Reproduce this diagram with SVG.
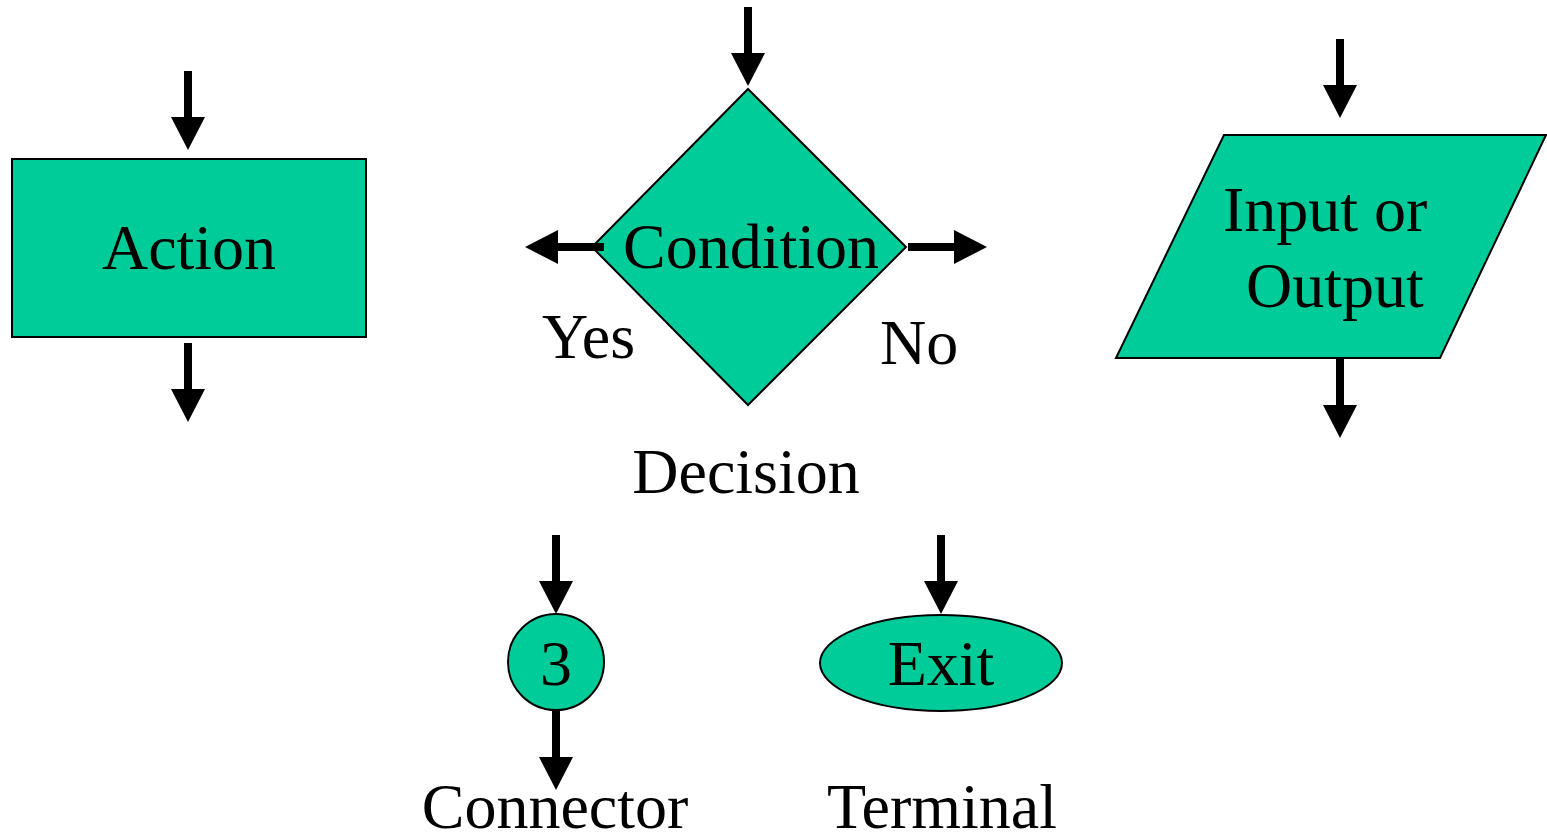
<svg xmlns="http://www.w3.org/2000/svg" width="1547" height="833" viewBox="0 0 1547 833">
  <style>
    .shape { fill: #00CC99; stroke: #000; stroke-width: 2; }
    .label { font-family: "Liberation Serif", "Times New Roman", serif; font-size: 64px; fill: #000; }
    .mid { text-anchor: middle; }
    .flow { stroke: #000; stroke-width: 8; fill: none; marker-end: url(#head); }
  </style>
  <defs>
    <marker id="head" markerUnits="userSpaceOnUse" markerWidth="34" markerHeight="34" refX="0" refY="17" orient="auto" overflow="visible">
      <path d="M0,0 L33,17 L0,34 Z" fill="#000"/>
    </marker>
  </defs>
  <rect width="1547" height="833" fill="#fff"/>

  <!-- process box -->
  <g id="action">
    <rect class="shape" x="12" y="159" width="354" height="178"/>
    <text class="label mid" x="189" y="269">Action</text>
  </g>

  <!-- decision diamond -->
  <g id="condition">
    <polygon class="shape" stroke-width="1.5" points="748,89 906,247 748,405 592,247"/>
    <text class="label mid" x="751" y="268">Condition</text>
  </g>
  <g id="yes-label">
    <text class="label" x="542" y="358">Yes</text>
  </g>
  <g id="no-label">
    <text class="label" x="880" y="364">No</text>
  </g>
  <g id="decision-caption">
    <text class="label mid" x="746" y="493">Decision</text>
  </g>

  <!-- input / output parallelogram -->
  <g id="input-output">
    <polygon class="shape" points="1224,135 1546,135 1440,358 1116,358"/>
    <text class="label" x="1223" y="231">Input or</text>
    <text class="label" x="1246" y="307">Output</text>
  </g>

  <!-- connector circle -->
  <g id="connector">
    <circle class="shape" cx="556" cy="662" r="48"/>
    <text class="label mid" x="556" y="685">3</text>
  </g>
  <g id="connector-caption">
    <text class="label mid" x="555" y="828">Connector</text>
  </g>

  <!-- terminal ellipse -->
  <g id="terminal">
    <ellipse class="shape" cx="941" cy="663" rx="121" ry="48"/>
    <text class="label mid" x="941" y="685">Exit</text>
  </g>
  <g id="terminal-caption">
    <text class="label mid" x="942" y="828">Terminal</text>
  </g>

  <!-- flow lines -->
  <g id="connectors">
    <line class="flow" x1="188" y1="71" x2="188" y2="117"/>
    <line class="flow" x1="188" y1="343" x2="188" y2="389"/>
    <line class="flow" x1="748" y1="7" x2="748" y2="53"/>
    <line class="flow" x1="604" y1="247" x2="558" y2="247"/>
    <line class="flow" x1="908" y1="247" x2="954" y2="247"/>
    <line class="flow" x1="1340" y1="39" x2="1340" y2="85"/>
    <line class="flow" x1="1340" y1="359" x2="1340" y2="405"/>
    <line class="flow" x1="556" y1="535" x2="556" y2="581"/>
    <line class="flow" x1="556" y1="711" x2="556" y2="757"/>
    <line class="flow" x1="941" y1="535" x2="941" y2="581"/>
  </g>
</svg>
